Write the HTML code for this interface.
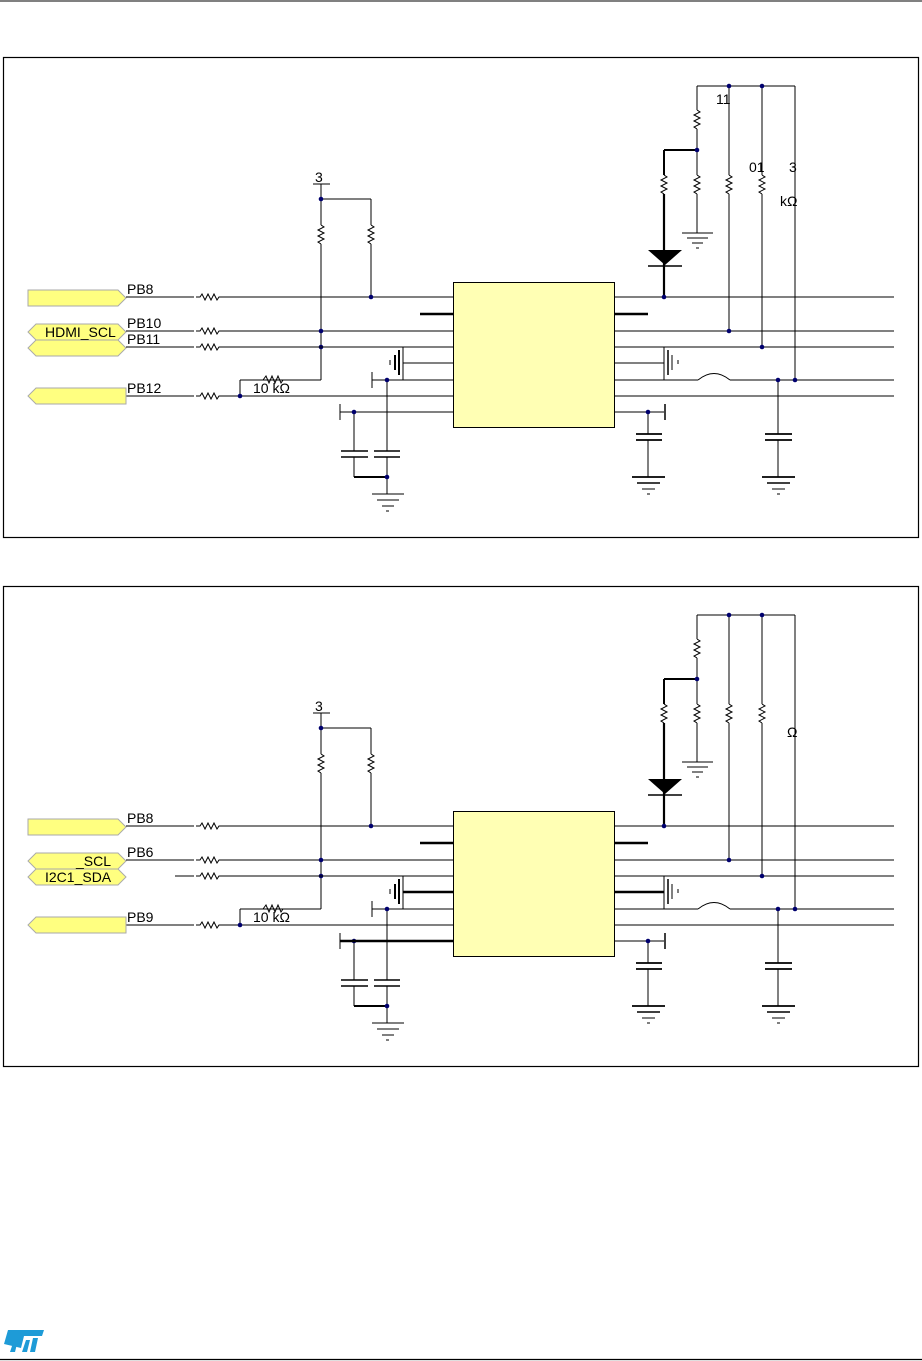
<!DOCTYPE html>
<html><head><meta charset="utf-8">
<style>
html,body{margin:0;padding:0;background:#fff;}
svg{display:block;}
text{font-family:"Liberation Sans",sans-serif;font-size:14px;fill:#000;}
</style></head>
<body>
<svg width="922" height="1361" viewBox="0 0 922 1361" xmlns="http://www.w3.org/2000/svg">
<defs>
<g id="panel" fill="none" stroke="#000" stroke-width="1">
  <rect x="3.5" y="57.5" width="915" height="480" stroke-width="1.2"/>
  <rect x="453.5" y="282.5" width="161" height="145" fill="#ffffb4"/>
  <line x1="126" y1="297" x2="453" y2="297"/>
  <line x1="126" y1="331" x2="453" y2="331"/>
  <line x1="126" y1="396" x2="453" y2="396"/>
  <line x1="420" y1="314" x2="453" y2="314" stroke-width="2.5"/>
  <line x1="403" y1="347" x2="403" y2="380"/>
  <line x1="403" y1="363" x2="453" y2="363"/>
  <line x1="372" y1="380" x2="453" y2="380"/>
  <line x1="372" y1="372" x2="372" y2="388"/>
  <line x1="340" y1="412" x2="453" y2="412"/>
  <line x1="340" y1="404" x2="340" y2="420"/>
  <line x1="399" y1="350" x2="399" y2="375" stroke-width="2"/>
  <line x1="395" y1="355" x2="395" y2="370" stroke-width="2"/>
  <line x1="390" y1="360" x2="390" y2="365"/>
  <line x1="313" y1="184" x2="330" y2="184"/>
  <line x1="321" y1="184" x2="321" y2="225"/>
  <line x1="321" y1="199" x2="371" y2="199"/>
  <line x1="371" y1="199" x2="371" y2="225"/>
  <path d="M321,225 l3,2 l-6,3 l6,3 l-6,3 l6,3 l-6,3 l3,2"/>
  <path d="M371,225 l3,2 l-6,3 l6,3 l-6,3 l6,3 l-6,3 l3,2"/>
  <line x1="321" y1="244" x2="321" y2="380"/>
  <line x1="371" y1="244" x2="371" y2="297"/>
  <line x1="321" y1="380" x2="240" y2="380"/>
  <line x1="240" y1="380" x2="240" y2="396"/>
  <path d="M263,380 l3,-4 l3,7 l3,-7 l3,7 l3,-7 l3,7 l2,-3" />
  <line x1="354" y1="412" x2="354" y2="451"/>
  <line x1="341" y1="451" x2="368" y2="451" stroke-width="1.5"/>
  <line x1="341" y1="457" x2="368" y2="457" stroke-width="1.5"/>
  <line x1="354" y1="457" x2="354" y2="477"/>
  <line x1="387" y1="380" x2="387" y2="451"/>
  <line x1="374" y1="451" x2="400" y2="451" stroke-width="1.5"/>
  <line x1="374" y1="457" x2="400" y2="457" stroke-width="1.5"/>
  <line x1="387" y1="457" x2="387" y2="494"/>
  <line x1="354" y1="477" x2="387" y2="477" stroke-width="2"/>
  <line x1="372" y1="494" x2="404" y2="494"/>
  <line x1="377" y1="500" x2="399" y2="500"/>
  <line x1="382" y1="506" x2="394" y2="506"/>
  <line x1="386" y1="511" x2="389" y2="511"/>
  <line x1="614" y1="297" x2="894" y2="297"/>
  <line x1="614" y1="314" x2="648" y2="314" stroke-width="2.5"/>
  <line x1="614" y1="331" x2="894" y2="331"/>
  <line x1="614" y1="347" x2="894" y2="347"/>
  <line x1="614" y1="363" x2="664" y2="363"/>
  <line x1="664" y1="347" x2="664" y2="380"/>
  <line x1="668" y1="350" x2="668" y2="375" stroke-width="1.5"/>
  <line x1="672" y1="355" x2="672" y2="370"/>
  <line x1="678" y1="360" x2="678" y2="364"/>
  <line x1="614" y1="380" x2="698" y2="380"/>
  <path d="M698,380 Q714,367 730,380"/>
  <line x1="730" y1="380" x2="894" y2="380"/>
  <line x1="614" y1="396" x2="894" y2="396"/>
  <line x1="614" y1="412" x2="664" y2="412"/>
  <line x1="665" y1="404" x2="665" y2="420" stroke-width="1.5"/>
  <line x1="648" y1="412" x2="648" y2="434"/>
  <line x1="636" y1="434" x2="662" y2="434" stroke-width="1.8"/>
  <line x1="636" y1="440" x2="662" y2="440" stroke-width="1.8"/>
  <line x1="648" y1="440" x2="648" y2="477"/>
  <line x1="632" y1="477" x2="665" y2="477" stroke-width="1.8"/>
  <line x1="637" y1="483" x2="660" y2="483" stroke-width="1.5"/>
  <line x1="642" y1="489" x2="655" y2="489"/>
  <line x1="647" y1="494" x2="650" y2="494"/>
  <line x1="778" y1="380" x2="778" y2="434"/>
  <line x1="765" y1="434" x2="792" y2="434" stroke-width="1.8"/>
  <line x1="765" y1="440" x2="792" y2="440" stroke-width="1.8"/>
  <line x1="778" y1="440" x2="778" y2="477"/>
  <line x1="762" y1="477" x2="795" y2="477" stroke-width="1.8"/>
  <line x1="767" y1="483" x2="790" y2="483" stroke-width="1.5"/>
  <line x1="772" y1="489" x2="785" y2="489"/>
  <line x1="777" y1="494" x2="780" y2="494"/>
  <line x1="697" y1="86" x2="795" y2="86"/>
  <line x1="697" y1="86" x2="697" y2="110"/>
  <path d="M697,110 l3,2 l-6,3 l6,3 l-6,3 l6,3 l-6,3 l3,2"/>
  <line x1="697" y1="129" x2="697" y2="175"/>
  <line x1="664" y1="150" x2="697" y2="150" stroke-width="2"/>
  <line x1="664" y1="150" x2="664" y2="175" stroke-width="2"/>
  <path d="M664,175 l3,2 l-6,3 l6,3 l-6,3 l6,3 l-6,3 l3,2"/>
  <line x1="664" y1="194" x2="664" y2="297" stroke-width="2.2"/>
  <path d="M648,250 L682,250 L665,265 Z" fill="#000" stroke="none"/>
  <line x1="648" y1="266" x2="682" y2="266" stroke-width="1.5"/>
  <path d="M697,175 l3,2 l-6,3 l6,3 l-6,3 l6,3 l-6,3 l3,2"/>
  <line x1="697" y1="194" x2="697" y2="233"/>
  <line x1="682" y1="233" x2="713" y2="233"/>
  <line x1="687" y1="238" x2="708" y2="238"/>
  <line x1="692" y1="243" x2="703" y2="243"/>
  <line x1="696" y1="248" x2="699" y2="248"/>
  <line x1="729" y1="86" x2="729" y2="175"/>
  <path d="M729,175 l3,2 l-6,3 l6,3 l-6,3 l6,3 l-6,3 l3,2"/>
  <line x1="729" y1="194" x2="729" y2="331"/>
  <line x1="762" y1="86" x2="762" y2="175"/>
  <path d="M762,175 l3,2 l-6,3 l6,3 l-6,3 l6,3 l-6,3 l3,2"/>
  <line x1="762" y1="194" x2="762" y2="347"/>
  <line x1="795" y1="86" x2="795" y2="380"/>
  <g fill="#00006e" stroke="none">
    <circle cx="321" cy="199" r="2.3"/><circle cx="371" cy="297" r="2.3"/>
    <circle cx="321" cy="331" r="2.3"/><circle cx="321" cy="347" r="2.3"/>
    <circle cx="240" cy="396" r="2.3"/><circle cx="387" cy="380" r="2.3"/>
    <circle cx="354" cy="412" r="2.3"/><circle cx="387" cy="477" r="2.3"/>
    <circle cx="729" cy="86" r="2.3"/><circle cx="762" cy="86" r="2.3"/>
    <circle cx="697" cy="150" r="2.3"/><circle cx="664" cy="297" r="2.3"/>
    <circle cx="729" cy="331" r="2.3"/><circle cx="762" cy="347" r="2.3"/>
    <circle cx="778" cy="380" r="2.3"/><circle cx="795" cy="380" r="2.3"/>
    <circle cx="648" cy="412" r="2.3"/>
  </g>
</g>
<path id="rh" d="M-12,0 h4 l2,-3 l3,6 l3,-6 l3,6 l3,-6 l3,6 l2,-3 h4" fill="none" stroke="#000"/>
</defs>

<line x1="0" y1="1" x2="922" y2="1" stroke="#000"/>

<use href="#panel"/>
<g fill="#ffff80" stroke="#aaa" stroke-width="1">
  <path d="M28,290 H118 L126,298 L118,306 H28 Z"/>
  <path d="M36,324 H118 L126,332 L118,340 H36 L28,332 Z"/>
  <path d="M36,340 H118 L126,348 L118,356 H36 L28,348 Z"/>
  <path d="M36,388 H126 V404 H36 L28,396 Z"/>
</g>
<line x1="126" y1="347" x2="453" y2="347" stroke="#000"/>
<g fill="#fff"><rect x="194" y="290" width="28" height="14"/><rect x="194" y="324" width="28" height="14"/><rect x="194" y="340" width="28" height="14"/><rect x="194" y="389" width="28" height="14"/></g>
<use href="#rh" x="208" y="297"/><use href="#rh" x="208" y="331"/><use href="#rh" x="208" y="347"/><use href="#rh" x="208" y="396"/>
<text x="127" y="294">PB8</text>
<text x="127" y="328">PB10</text>
<text x="127" y="344">PB11</text>
<text x="127" y="393">PB12</text>
<text x="45" y="337">HDMI_SCL</text>
<text x="253" y="393">10 kΩ</text>
<text x="315" y="182">3</text>
<text x="716" y="104">11</text>
<text x="749" y="172">01</text>
<text x="789" y="172">3</text>
<text x="780" y="206">kΩ</text>

<g transform="translate(0,529)"><use href="#panel"/>
  <line x1="340" y1="412" x2="453" y2="412" stroke="#000" stroke-width="2.5"/>
  <line x1="403" y1="363" x2="453" y2="363" stroke="#000" stroke-width="2.5"/>
  <line x1="614" y1="363" x2="664" y2="363" stroke="#000" stroke-width="2.5"/>
</g>
<g fill="#ffff80" stroke="#aaa" stroke-width="1">
  <path d="M28,819 H118 L126,827 L118,835 H28 Z"/>
  <path d="M36,853 H118 L126,861 L118,869 H36 L28,861 Z"/>
  <path d="M36,869 H118 L126,877 L118,885 H36 L28,877 Z"/>
  <path d="M36,917 H126 V933 H36 L28,925 Z"/>
</g>
<line x1="175" y1="876" x2="453" y2="876" stroke="#000"/>
<g fill="#fff"><rect x="194" y="819" width="28" height="14"/><rect x="194" y="853" width="28" height="14"/><rect x="194" y="869" width="28" height="14"/><rect x="194" y="918" width="28" height="14"/></g>
<use href="#rh" x="208" y="826"/><use href="#rh" x="208" y="860"/><use href="#rh" x="208" y="876"/><use href="#rh" x="208" y="925"/>
<text x="127" y="823">PB8</text>
<text x="127" y="857">PB6</text>
<text x="127" y="922">PB9</text>
<text x="76" y="866">_SCL</text>
<text x="45" y="882">I2C1_SDA</text>
<text x="253" y="922">10 kΩ</text>
<text x="315" y="711">3</text>
<text x="787" y="737">Ω</text>

<g fill="#1e9bd7">
  <path d="M4,1344 L8,1330 L44,1330 L42,1336 L24,1336 L21,1348 Z"/>
  <path d="M10,1352 L14,1340 L18,1340 L15,1352 Z"/>
  <path d="M22,1352 L26,1340 L30,1340 L27,1352 Z"/>
  <path d="M30,1352 L33,1338 L38,1338 L35,1352 Z"/>
</g>
<line x1="0" y1="1359.5" x2="922" y2="1359.5" stroke="#000" stroke-width="1.2"/>
</svg>
</body></html>
